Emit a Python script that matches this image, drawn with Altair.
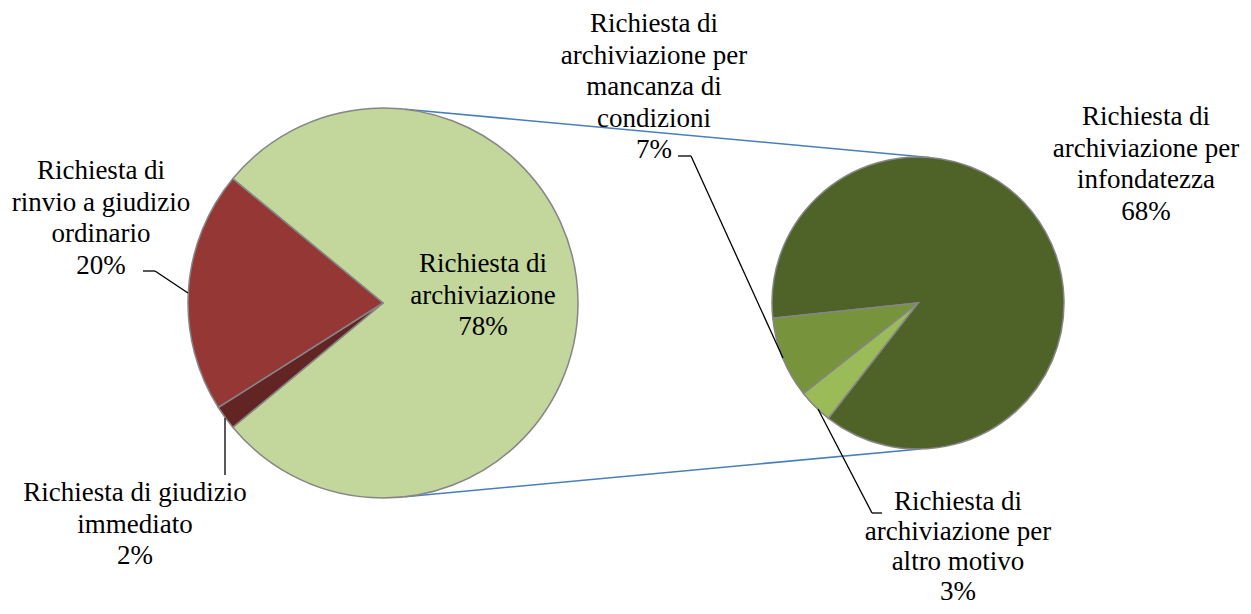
import math
import altair as alt
import pandas as pd

# ---- data ----
main_categories = ["Richiesta di archiviazione", "Richiesta di giudizio immediato",
                   "Richiesta di rinvio a giudizio ordinario"]
main_values = [78, 2, 20]
main_colors = ["#C3D69B", "#632523", "#953735"]

sub_categories = ["Richiesta di archiviazione per infondatezza",
                  "Richiesta di archiviazione per altro motivo",
                  "Richiesta di archiviazione per mancanza di condizioni"]
sub_values = [68, 3, 7]
sub_colors = ["#4F6228", "#9BBB59", "#77933C"]

# ---- layout (page pixel coordinates, shifted by the 8px page margin) ----
M = 8
L_CX, L_CY, L_R = 383 - M, 303 - M, 195
R_CX, R_CY, R_R = 918 - M, 303 - M, 146
L_START = 360 - main_values[0] / sum(main_values) * 180 + 90  # combined slice faces right
R_START = 264
FONT = "Liberation Serif"
FS = 27

main_df = pd.DataFrame({"cat": main_categories, "val": main_values,
                        "ord": list(range(len(main_values)))})
sub_df = pd.DataFrame({"cat": sub_categories, "val": sub_values,
                       "ord": list(range(len(sub_values)))})


def pie(df, cats, colors, cx, cy, r, start):
    s = math.radians(start)
    return alt.Chart(df).mark_arc(radius=r, stroke="#868686", strokeWidth=1.5).encode(
        theta=alt.Theta("val:Q", stack=True, scale=alt.Scale(range=[s, s + 2 * math.pi])),
        color=alt.Color("cat:N", scale=alt.Scale(domain=cats, range=colors), legend=None),
        order=alt.Order("ord:Q"),
        x=alt.value(cx), y=alt.value(cy),
    )


def pt(cx, cy, r, deg):
    a = math.radians(deg)
    return cx + r * math.sin(a), cy - r * math.cos(a)


# connector (series) lines between the pies
t1 = pt(L_CX, L_CY, L_R, 6.5); t2 = pt(R_CX, R_CY, R_R, 4.5)
b1 = pt(L_CX, L_CY, L_R, 173.5); b2 = pt(R_CX, R_CY, R_R, 179)
conn = pd.DataFrame({"x": [t1[0], b1[0]], "y": [t1[1], b1[1]],
                     "x2": [t2[0], b2[0]], "y2": [t2[1], b2[1]]})
conn_layer = alt.Chart(conn).mark_rule(color="#4A7EBB", strokeWidth=1.6).encode(
    x=alt.X("x:Q", scale=None), y=alt.Y("y:Q", scale=None),
    x2="x2:Q", y2="y2:Q")

# leader lines
leaders = [
    ((143, 271), (155, 271)), ((155, 271), (188, 293)),
    ((225, 418), (225, 475)),
    ((678, 156), (691, 156)), ((691, 156), (783, 358)),
    ((818, 409), (872, 513)), ((872, 513), (882, 513)),
]
lead = pd.DataFrame({"x": [a[0] - M for a, b in leaders], "y": [a[1] - M for a, b in leaders],
                     "x2": [b[0] - M for a, b in leaders], "y2": [b[1] - M for a, b in leaders]})
lead_layer = alt.Chart(lead).mark_rule(color="black", strokeWidth=1.3).encode(
    x=alt.X("x:Q", scale=None), y=alt.Y("y:Q", scale=None),
    x2="x2:Q", y2="y2:Q")

# labels (wrapped as in the reference)
wrapped = {
    "Richiesta di archiviazione": ["Richiesta di", "archiviazione"],
    "Richiesta di giudizio immediato": ["Richiesta di giudizio", "immediato"],
    "Richiesta di rinvio a giudizio ordinario": ["Richiesta di", "rinvio a giudizio", "ordinario"],
    "Richiesta di archiviazione per infondatezza": ["Richiesta di", "archiviazione per", "infondatezza"],
    "Richiesta di archiviazione per altro motivo": ["Richiesta di", "archiviazione per", "altro motivo"],
    "Richiesta di archiviazione per mancanza di condizioni": ["Richiesta di", "archiviazione per",
                                                              "mancanza di", "condizioni"],
}
label_pos = {  # center x, baseline of first line (page px), line height
    "Richiesta di archiviazione": (483, 272, 31.5),
    "Richiesta di giudizio immediato": (135, 501, 31.5),
    "Richiesta di rinvio a giudizio ordinario": (101, 179, 31.5),
    "Richiesta di archiviazione per infondatezza": (1146, 125, 31.5),
    "Richiesta di archiviazione per altro motivo": (958, 510, 30),
    "Richiesta di archiviazione per mancanza di condizioni": (654, 32, 31.5),
}
rows = []
for cat, val in list(zip(main_categories, main_values)) + list(zip(sub_categories, sub_values)):
    x, y, lh = label_pos[cat]
    for i, line in enumerate(wrapped[cat] + [f"{val}%"]):
        rows.append({"t": line, "x": x - M, "y": y - M + i * lh})
lab = pd.DataFrame(rows)
lab_layer = alt.Chart(lab).mark_text(font=FONT, fontSize=FS,
                                     align="center", baseline="alphabetic", color="black").encode(
    x=alt.X("x:Q", scale=None), y=alt.Y("y:Q", scale=None), text="t:N")

chart = alt.layer(
    conn_layer,
    pie(main_df, main_categories, main_colors, L_CX, L_CY, L_R, L_START),
    pie(sub_df, sub_categories, sub_colors, R_CX, R_CY, R_R, R_START),
    lead_layer,
    lab_layer,
).resolve_scale(color="independent", theta="independent").properties(
    width=1235, height=598, autosize="none", padding=0, background="white"
).configure_view(stroke=None)

chart.save("out.html", embed_options={"renderer": "svg", "actions": False})
